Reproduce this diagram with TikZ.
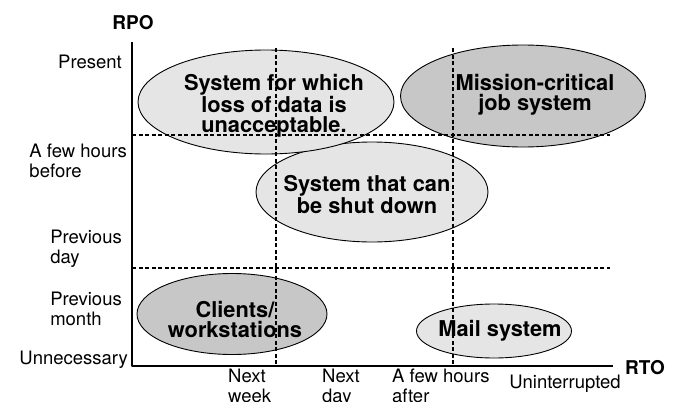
\documentclass[tikz,border=0pt]{standalone}
\usepackage{fontspec}
\setmainfont{TeX Gyre Heros}
\usepackage{tikz}
\usetikzlibrary{shapes.geometric}
\definecolor{eeeeee}{rgb}{0.9,0.9,0.9}
\definecolor{cccccc}{rgb}{0.78,0.78,0.78}
\tikzstyle{every node}=[font=\fontsize{18.5}{20}\selectfont,inner sep=0pt]
\tikzstyle{sys}=[ellipse,draw=black,line width=0.9pt,inner sep=0pt]
\tikzstyle{sysname}=[align=center,font=\fontsize{21.8}{20}\selectfont\bfseries]
\tikzstyle{level}=[align=left,anchor=base east]
\tikzstyle{gridline}=[line width=1.2pt,line cap=butt,dash pattern=on 4pt off 2.5pt]

\begin{document}
\begin{tikzpicture}[line cap=round,line join=round,x=1pt,y=-1pt]
\useasboundingbox (0,0) rectangle (681,402);
\coordinate (origin) at (132,366);
\coordinate (ytop) at (132,42);
\coordinate (xend) at (613,366);
% systems
\node[sys,fill=eeeeee,minimum width=232pt,minimum height=100pt] (shutE) at (372,192) {};
\node[sys,fill=eeeeee,minimum width=256pt,minimum height=104pt] (lossE) at (266,102) {};
\node[sys,fill=cccccc,minimum width=245pt,minimum height=102pt] (missionE) at (523,96) {};
\node[sys,fill=cccccc,minimum width=190pt,minimum height=81pt] (clientsE) at (232,314) {};
\node[sys,fill=eeeeee,minimum width=155pt,minimum height=54pt] (mailE) at (494,331) {};
\node[sysname] (loss) at (274,106) {System for which\\loss of data is\\unacceptable.};
\node[sysname] (mission) at (535,95) {Mission-critical\\job system};
\node[sysname] (shut) at (367,194.5) {System that can\\be shut down};
\node[sysname] (clients) at (235,319) {Clients/\\workstations};
\node[sysname] (mail) at (500,331) {Mail system};
% grid
\draw[gridline] (132,135) -- (610,135);
\draw[gridline] (132,268) -- (610,268);
\draw[gridline] (276,48) -- (276,366);
\draw[gridline] (453,48) -- (453,366);
% axes
\draw[line width=2pt,line cap=butt] (ytop) -- (origin) -- (xend);
\node[font=\fontsize{19}{20}\selectfont\bfseries,anchor=base] (rpo) at (133,29) {RPO};
\node[font=\fontsize{19}{20}\selectfont\bfseries,anchor=base] (rto) at (645,374) {RTO};
% RPO levels (base is the last line)
\node[level] (present) at (122,68) {Present};
\node[level] (hoursbefore) at (127,177) {A few hours\\before};
\node[level] (prevday) at (122,263) {Previous\\day};
\node[level] (prevmonth) at (122,325) {Previous\\month};
\node[level] (unnecessary) at (128,364) {Unnecessary};
% RTO levels
\node[align=left,anchor=base west] (nextweek) at (228,402) {Next\\week};
\node[align=left,anchor=base west] (nextday) at (322,402) {Next\\day};
\node[align=left,anchor=base west] (hoursafter) at (392,402) {A few hours\\after};
\node[anchor=base] (uninterrupted) at (565,388) {Uninterrupted};
\end{tikzpicture}
\end{document}
